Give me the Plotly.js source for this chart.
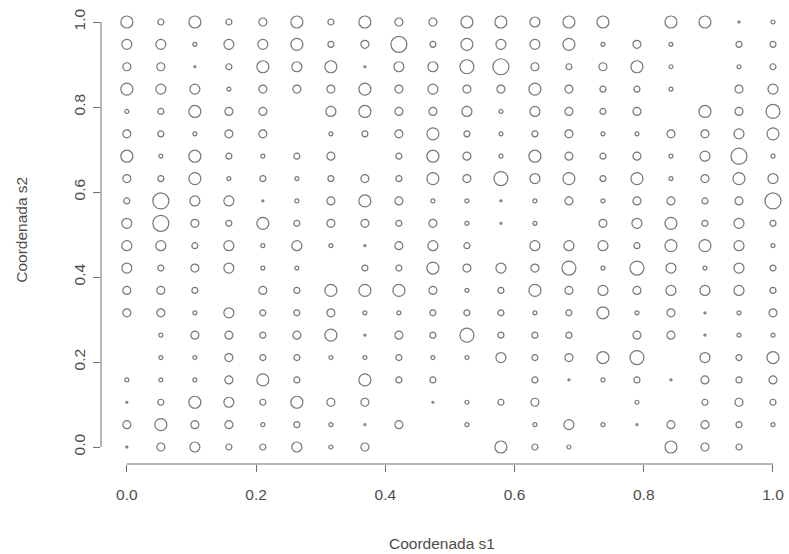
<!DOCTYPE html>
<html>
<head>
<meta charset="utf-8">
<script src="https://cdn.plot.ly/plotly-3.0.1.min.js"></script>
<style>html,body{margin:0;padding:0;background:#fff;}#chart{width:789px;height:554px;}</style>
</head>
<body>
<div id="chart"></div>
<script>
// Grid coordinates (20 x 20)
const s1Values = [0,1,2,3,4,5,6,7,8,9,10,11,12,13,14,15,16,17,18,19].map(i => i / 19);
const s2Values = [0,1,2,3,4,5,6,7,8,9,10,11,12,13,14,15,16,17,18,19].map(i => i / 19);
const xTickVals = [0, 0.2, 0.4, 0.6, 0.8, 1.0];
const xTickText = ["0.0", "0.2", "0.4", "0.6", "0.8", "1.0"];
const yTickVals = [0, 0.2, 0.4, 0.6, 0.8, 1.0];
const yTickText = ["0.0", "0.2", "0.4", "0.6", "0.8", "1.0"];
const xTitle = 'Coordenada s1';
const yTitle = 'Coordenada s2';

// Estimated weight per cell, one row per s2 level (w19 = s2 1.0), columns s1 0 -> 1
const w19 = [6,3,6,3,4, 6,3,6,4,4, 6,6,5,6,6, 0,6,6,1,2];
const w18 = [5,5,2,5,5, 6,3,4,8,3, 6,5,5,6,2, 4,2,0,3,3];
const w17 = [4,4,1,3,6, 5,6,1,5,5, 7,8,4,3,4, 6,2,0,2,3];
const w16 = [6,5,5,2,4, 4,4,6,4,5, 4,4,6,4,3, 3,2,0,4,5];
const w15 = [2,3,6,4,4, 0,5,6,4,4, 5,2,5,4,3, 4,0,6,4,7];
const w14 = [4,3,2,4,4, 0,2,3,4,6, 3,2,3,4,2, 2,4,4,5,6];
const w13 = [6,2,6,3,2, 3,4,0,3,6, 4,2,6,4,3, 4,2,5,8,2];
const w12 = [4,3,6,2,3, 2,3,4,3,6, 4,7,5,6,3, 6,2,4,6,5];
const w11 = [3,8,5,5,1, 2,4,6,4,2, 2,1,2,4,2, 4,4,3,4,8];
const w10 = [5,8,4,3,6, 3,4,4,3,4, 2,1,2,0,4, 5,6,3,5,3];
const w09 = [5,5,3,5,2, 5,2,1,4,5, 3,0,5,5,5, 3,6,6,5,2];
const w08 = [5,3,4,5,2, 2,0,3,3,6, 4,5,4,7,2, 7,5,2,5,3];
const w07 = [4,4,3,0,4, 3,6,6,6,4, 2,3,6,4,5, 4,5,5,5,3];
const w06 = [4,4,2,5,3, 3,4,2,2,3, 3,3,2,3,6, 2,4,1,2,4];
const w05 = [0,2,4,4,3, 4,6,1,4,3, 7,3,3,3,0, 4,4,1,2,2];
const w04 = [0,2,2,4,3, 3,2,2,3,2, 2,5,3,4,6, 7,0,5,3,6];
const w03 = [2,2,2,4,6, 3,0,6,3,3, 0,0,3,1,2, 3,1,4,3,4];
const w02 = [1,3,6,5,3, 6,4,4,0,1, 2,3,4,0,0, 2,0,3,4,3];
const w01 = [4,6,4,4,2, 3,2,1,4,0, 2,0,2,5,2, 1,4,4,3,2];
const w00 = [1,4,5,3,3, 5,2,4,0,0, 0,6,3,2,0, 0,6,4,3,0];

const weightRows = [w00,w01,w02,w03,w04,w05,w06,w07,w08,w09,w10,w11,w12,w13,w14,w15,w16,w17,w18,w19];

const xs = [], ys = [], ws = [];
weightRows.forEach((row, j) => {
  row.forEach((w, i) => {
    if (w > 0) { xs.push(s1Values[i]); ys.push(s2Values[j]); ws.push(w); }
  });
});

const trace = {
  type: 'scatter',
  mode: 'markers',
  x: xs,
  y: ys,
  marker: {
    symbol: 'circle-open',
    size: ws.map(w => 2 * w),
    color: '#3c3c3c',
    line: { width: 1.2, color: '#3c3c3c' }
  },
  hoverinfo: 'x+y'
};

const axisColor = '#6e6e6e';
const textFont = { family: 'Liberation Sans, Arial, sans-serif', size: 15.5, color: '#4d4d4d' };

const layout = {
  width: 789,
  height: 554,
  margin: { l: 101, r: 0, t: 5, b: 90 },
  paper_bgcolor: '#fff',
  plot_bgcolor: '#fff',
  showlegend: false,
  font: textFont,
  xaxis: {
    range: [-0.04, 1.0248],
    showgrid: false, zeroline: false, showline: false,
    tickmode: 'array', tickvals: xTickVals, ticktext: xTickText,
    ticks: 'outside', ticklen: 7, tickwidth: 1, tickcolor: axisColor,
    ticklabelstandoff: 9,
    tickfont: textFont
  },
  yaxis: {
    range: [-0.04, 1.04],
    showgrid: false, zeroline: false, showline: false,
    tickmode: 'array', tickvals: yTickVals, ticktext: yTickText,
    ticks: 'outside', ticklen: 7, tickwidth: 1, tickcolor: axisColor,
    tickangle: -90,
    ticklabelstandoff: 2,
    tickfont: textFont
  },
  annotations: [
    { text: xTitle, xref: 'paper', yref: 'paper', x: 0.496, y: -0.174, xanchor: 'center', yanchor: 'middle', showarrow: false, font: textFont },
    { text: yTitle, xref: 'paper', yref: 'paper', x: -0.115, y: 0.51, xanchor: 'center', yanchor: 'middle', textangle: -90, showarrow: false, font: textFont }
  ],
  shapes: [
    { type: 'line', xref: 'x', yref: 'paper', x0: 0, x1: 1, y0: 0, y1: 0, line: { color: axisColor, width: 1 } },
    { type: 'line', xref: 'paper', yref: 'y', x0: 0, x1: 0, y0: 0, y1: 1, line: { color: axisColor, width: 1 } }
  ]
};

Plotly.newPlot('chart', [trace], layout, { displayModeBar: false, staticPlot: true });
</script>
</body>
</html>
